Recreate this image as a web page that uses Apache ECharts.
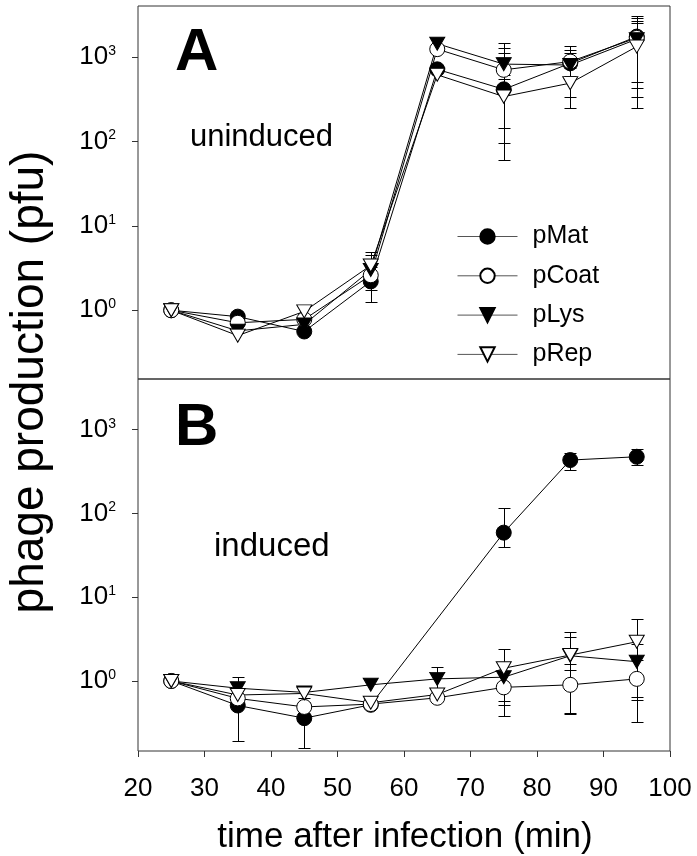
<!DOCTYPE html>
<html>
<head>
<meta charset="utf-8">
<script src="https://cdn.jsdelivr.net/npm/echarts@6/dist/echarts.min.js"></script>
<style>
  html, body { margin: 0; padding: 0; background: #fff; }
  #chart { width: 697px; height: 856px; }
</style>
</head>
<body>
<div id="chart"></div>
<script>
// Sampling times (min after infection) and axis ticks
const times = [25, 35, 45, 55, 65, 75, 85, 95];
const xTicks = [20, 30, 40, 50, 60, 70, 80, 90, 100];
const decades = [1, 10, 100, 1000];
const constructs = ['pMat', 'pCoat', 'pLys', 'pRep'];

// Panel A: uninduced (pfu)
const uninducedMat  = [1.0, 0.84, 0.56, 2.2, 720, 417, 850, 1760];
const uninducedCoat = [1.0, 0.71, 0.78, 2.6, 1250, 710, 890, 1700];
const uninducedLys  = [1.0, 0.57, 0.68, 3.0, 1450, 830, 810, 1640];
const uninducedRep  = [1.0, 0.50, 0.97, 3.4, 620, 342, 494, 1340];

// Panel A error bars [low, high]
const uninducedMatErr  = [null, null, null, [1.27, 3.3], null, [96, 1130], [334, 1365], [515, 3100]];
const uninducedCoatErr = [null, null, null, [1.74, 4.0], null, [145, 1300], [600, 1225], [432, 2900]];
const uninducedLysErr  = [null, null, null, [2.2, 4.5], null, [560, 1480], [560, 1110], [342, 2700]];
const uninducedRepErr  = [null, null, [0.85, 1.12], [2.6, 4.95], null, [61, 620], [249, 740], [249, 2540]];

// Panel B: induced (pfu); pMat has no 65 min sample
const inducedMat  = [1.0, 0.51, 0.36, 0.52, null, 59, 434, 475];
const inducedCoat = [1.0, 0.62, 0.49, 0.53, 0.63, 0.84, 0.90, 1.06];
const inducedLys  = [1.0, 0.82, 0.73, 0.90, 1.06, 1.11, 2.0, 1.70];
const inducedRep  = [1.0, 0.68, 0.71, 0.55, 0.69, 1.42, 2.04, 2.94];

// Panel B error bars [low, high]
const inducedMatErr  = [null, [0.19, 0.83], [0.16, 0.56], null, null, [40, 117], [330, 530], [378, 582]];
const inducedCoatErr = [null, null, null, null, null, [0.385, 1.3], [0.41, 1.35], [0.32, 1.8]];
const inducedLysErr  = [null, [0.6, 1.11], [0.63, 0.83], null, [0.8, 1.48], [0.51, 1.7], [0.40, 3.32], [0.59, 2.8]];
const inducedRepErr  = [null, null, null, null, null, [0.57, 2.39], [1.6, 3.81], [0.65, 5.45]];

const FONT = '"Liberation Sans", Arial, sans-serif';
const INK = '#000';
const FRAME = '#333';
const DOWN_TRIANGLE = 'path://M0,0L16,0L8,14Z';

const markerStyle = {
  pMat:  { symbol: 'circle', size: 15, fill: '#000' },
  pCoat: { symbol: 'circle', size: 15, fill: '#fff' },
  pLys:  { symbol: DOWN_TRIANGLE, size: [15, 13], fill: '#000' },
  pRep:  { symbol: DOWN_TRIANGLE, size: [15, 13], fill: '#fff' }
};

const panels = [
  { values: [uninducedMat, uninducedCoat, uninducedLys, uninducedRep],
    errors: [uninducedMatErr, uninducedCoatErr, uninducedLysErr, uninducedRepErr] },
  { values: [inducedMat, inducedCoat, inducedLys, inducedRep],
    errors: [inducedMatErr, inducedCoatErr, inducedLysErr, inducedRepErr] }
];

function crisp(v) { return Math.round(v) + 0.5; }

function renderErrorBar(params, api) {
  const x = api.value(0);
  const lo = api.coord([x, api.value(1)]);
  const hi = api.coord([x, api.value(2)]);
  const cx = crisp(lo[0]);
  const y1 = crisp(lo[1]);
  const y2 = crisp(hi[1]);
  const half = 6;
  const style = { stroke: INK, lineWidth: 1, fill: null };
  return {
    type: 'group',
    children: [
      { type: 'line', shape: { x1: cx, y1: y1, x2: cx, y2: y2 }, style },
      { type: 'line', shape: { x1: cx - half, y1: y1, x2: cx + half, y2: y1 }, style },
      { type: 'line', shape: { x1: cx - half, y1: y2, x2: cx + half, y2: y2 }, style }
    ]
  };
}

const series = [];
panels.forEach((panel, p) => {
  constructs.forEach((name, k) => {
    const errs = panel.errors[k];
    series.push({
      type: 'custom',
      xAxisIndex: p,
      yAxisIndex: p,
      silent: true,
      z: 2,
      encode: { x: 0, y: [1, 2] },
      data: times.map((t, i) => errs[i] ? [t, errs[i][0], errs[i][1]] : null).filter(Boolean),
      renderItem: renderErrorBar
    });
    const st = markerStyle[name];
    series.push({
      type: 'line',
      name: name,
      xAxisIndex: p,
      yAxisIndex: p,
      z: 2,
      data: times.map((t, i) => [t, panel.values[k][i]]).filter(d => d[1] != null),
      symbol: st.symbol,
      symbolSize: st.size,
      showAllSymbol: true,
      itemStyle: { color: st.fill, borderColor: INK, borderWidth: 1, opacity: 1 },
      lineStyle: { color: INK, width: 1 },
      emphasis: { disabled: true }
    });
  });
});

function yAxisFor(gridIndex, min, max) {
  return {
    type: 'log',
    logBase: 10,
    gridIndex: gridIndex,
    min: min,
    max: max,
    axisLine: { show: false },
    splitLine: { show: false },
    axisTick: { show: true, inside: false, length: 6, customValues: decades,
                lineStyle: { color: FRAME, width: 1 } },
    axisLabel: {
      customValues: decades,
      margin: 22,
      formatter: v => '{a|10}{b|' + Math.round(Math.log10(v)) + '}',
      rich: {
        a: { fontFamily: FONT, fontSize: 26, color: INK, lineHeight: 26 },
        b: { fontFamily: FONT, fontSize: 14, color: INK, lineHeight: 21, verticalAlign: 'top' }
      }
    }
  };
}

const chart = echarts.init(document.getElementById('chart'), null, { renderer: 'canvas' });
chart.setOption({
  animation: false,
  backgroundColor: '#fff',
  grid: [
    { left: 138, top: 6, width: 532, height: 373, show: true, borderColor: FRAME, borderWidth: 1, backgroundColor: 'transparent' },
    { left: 138, top: 379, width: 532, height: 372, show: true, borderColor: FRAME, borderWidth: 1, backgroundColor: 'transparent' }
  ],
  xAxis: [
    { type: 'value', gridIndex: 0, min: xTicks[0], max: xTicks[xTicks.length - 1], interval: 10,
      axisLine: { show: false }, axisTick: { show: false }, axisLabel: { show: false }, splitLine: { show: false } },
    { type: 'value', gridIndex: 1, min: xTicks[0], max: xTicks[xTicks.length - 1], interval: 10,
      axisLine: { show: false }, splitLine: { show: false },
      axisTick: { show: true, inside: false, length: 6, lineStyle: { color: FRAME, width: 1 } },
      axisLabel: { margin: 25, fontFamily: FONT, fontSize: 26, color: INK, lineHeight: 26 } }
  ],
  yAxis: [
    yAxisFor(0, 0.153, 4059),
    yAxisFor(1, 0.146, 4027)
  ],
  legend: {
    data: constructs,
    orient: 'vertical',
    left: 457,
    top: 224,
    padding: 0,
    itemWidth: 60,
    itemHeight: 18,
    itemGap: 14.3,
    selectedMode: false,
    lineStyle: { color: '#555', width: 1 },
    textStyle: { fontFamily: FONT, fontSize: 25, color: INK, lineHeight: 18, padding: [0, 0, 0, 10] }
  },
  graphic: [
    { type: 'text', x: 175, y: 53, silent: true,
      style: { text: 'A', font: 'bold 60px ' + FONT, fill: INK, verticalAlign: 'middle', align: 'left' } },
    { type: 'text', x: 190, y: 137, silent: true,
      style: { text: 'uninduced', font: '31px ' + FONT, fill: INK, verticalAlign: 'middle', align: 'left' } },
    { type: 'text', x: 175, y: 428, silent: true,
      style: { text: 'B', font: 'bold 60px ' + FONT, fill: INK, verticalAlign: 'middle', align: 'left' } },
    { type: 'text', x: 214, y: 547, silent: true,
      style: { text: 'induced', font: '33px ' + FONT, fill: INK, verticalAlign: 'middle', align: 'left' } },
    { type: 'text', x: 405, y: 837, silent: true,
      style: { text: 'time after infection (min)', font: '35px ' + FONT, fill: INK, verticalAlign: 'middle', align: 'center' } },
    { type: 'text', x: 30, y: 382, rotation: Math.PI / 2, silent: true,
      style: { text: 'phage production (pfu)', font: '46px ' + FONT, fill: INK, verticalAlign: 'middle', align: 'center' } }
  ],
  series: series
});
</script>
</body>
</html>
